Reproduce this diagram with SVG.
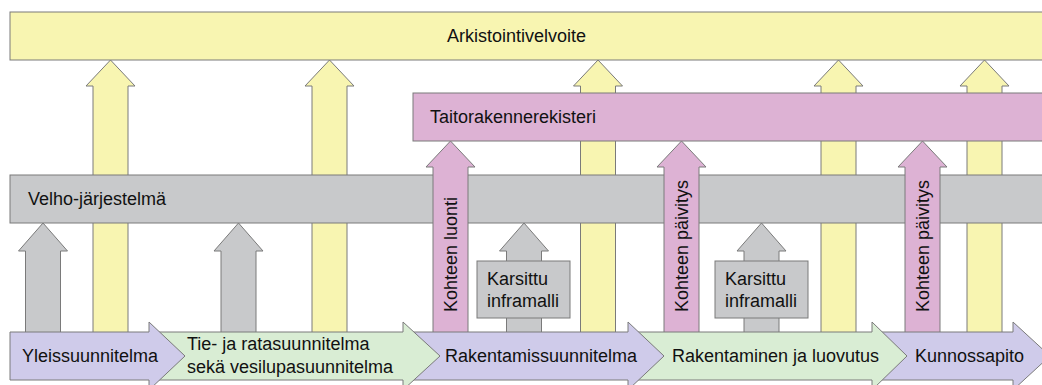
<svg xmlns="http://www.w3.org/2000/svg" width="1042" height="385" viewBox="0 0 1042 385">
<defs>
<style>
text{font-family:"Liberation Sans",Arial,sans-serif;font-size:18px;fill:#111}
.y{fill:#F8F5B1;stroke:#7a7a7a;stroke-width:1}
.g{fill:#C8C9CB;stroke:#7a7a7a;stroke-width:1}
.p{fill:#DDB2D4;stroke:#7a7a7a;stroke-width:1}
.pu{fill:#CFCBEA;stroke:#7a7a7a;stroke-width:1}
.gr{fill:#D9EDD4;stroke:#7a7a7a;stroke-width:1}
</style>
</defs>
<rect width="1042" height="385" fill="#fff"/>
<g id="connectors">
<!-- yellow up-arrows to Arkistointivelvoite -->
<path class="y" d="M110.5,60 L135,86 L128,86 L128,340 L93,340 L93,86 L86,86 Z"/>
<path class="y" d="M329.5,60 L354,86 L347,86 L347,340 L312,340 L312,86 L305,86 Z"/>
<path class="y" d="M598,60 L622.5,86 L615.5,86 L615.5,340 L580.5,340 L580.5,86 L573.5,86 Z"/>
<path class="y" d="M838.5,60 L863,86 L856,86 L856,340 L821,340 L821,86 L814,86 Z"/>
<path class="y" d="M984.5,60 L1009,86 L1002,86 L1002,340 L967,340 L967,86 L960,86 Z"/>
<!-- gray up-arrows to Velho -->
<path class="g" d="M43,223 L67.5,251 L60.5,251 L60.5,340 L25.5,340 L25.5,251 L18.5,251 Z"/>
<path class="g" d="M238.5,223 L263,251 L256,251 L256,340 L221,340 L221,251 L214,251 Z"/>
<path class="g" d="M524,223 L548.5,251 L541.5,251 L541.5,340 L506.5,340 L506.5,251 L499.5,251 Z"/>
<path class="g" d="M761.5,223 L786,251 L779,251 L779,340 L744,340 L744,251 L737,251 Z"/>
</g>
<g id="arkistointivelvoite">
<rect class="y" x="10" y="12" width="1040" height="48"/>
<text x="447" y="42">Arkistointivelvoite</text>
</g>
<g id="taitorakennerekisteri">
<rect class="p" x="413" y="93" width="640" height="48"/>
<text x="430" y="123">Taitorakennerekisteri</text>
</g>
<g id="velho">
<rect class="g" x="10" y="175" width="1040" height="48"/>
<text x="28" y="205">Velho-järjestelmä</text>
</g>
<g id="kohteen-luonti">
<path class="p" d="M450.5,141 L475,167 L468,167 L468,340 L433,340 L433,167 L426,167 Z"/>
<text transform="translate(457,312) rotate(-90)">Kohteen luonti</text>
</g>
<g id="kohteen-paivitys-1">
<path class="p" d="M681.5,141 L706,167 L699,167 L699,340 L664,340 L664,167 L657,167 Z"/>
<text transform="translate(687.5,312) rotate(-90)">Kohteen päivitys</text>
</g>
<g id="kohteen-paivitys-2">
<path class="p" d="M922.5,141 L947,167 L940,167 L940,340 L905,340 L905,167 L898,167 Z"/>
<text transform="translate(928.5,312) rotate(-90)">Kohteen päivitys</text>
</g>
<g id="karsittu-1">
<rect class="g" x="477" y="261" width="93" height="57"/>
<text x="487" y="285">Karsittu</text>
<text x="487" y="307">inframalli</text>
</g>
<g id="karsittu-2">
<rect class="g" x="715" y="261" width="93" height="57"/>
<text x="725" y="285">Karsittu</text>
<text x="725" y="307">inframalli</text>
</g>
<g id="kunnossapito">
<path class="pu" d="M872,332 L1013,332 L1013,322 L1050,356 L1013,390 L1013,380 L872,380 Z"/>
<text x="915" y="362">Kunnossapito</text>
</g>
<g id="rakentaminen">
<path class="gr" d="M628,332 L872,332 L872,322 L907,356 L872,390 L872,380 L628,380 Z"/>
<text x="672" y="362">Rakentaminen ja luovutus</text>
</g>
<g id="rakentamissuunnitelma">
<path class="pu" d="M403,332 L628,332 L628,322 L664,356 L628,390 L628,380 L403,380 Z"/>
<text x="445" y="362">Rakentamissuunnitelma</text>
</g>
<g id="tie-ja-ratasuunnitelma">
<path class="gr" d="M149,332 L403,332 L403,322 L440,356 L403,390 L403,380 L149,380 Z"/>
<text x="187" y="350">Tie- ja ratasuunnitelma</text>
<text x="187" y="373">sekä vesilupasuunnitelma</text>
</g>
<g id="yleissuunnitelma">
<path class="pu" d="M10,332 L149,332 L149,322 L185,356 L149,390 L149,380 L10,380 Z"/>
<text x="22" y="362">Yleissuunnitelma</text>
</g>
</svg>
